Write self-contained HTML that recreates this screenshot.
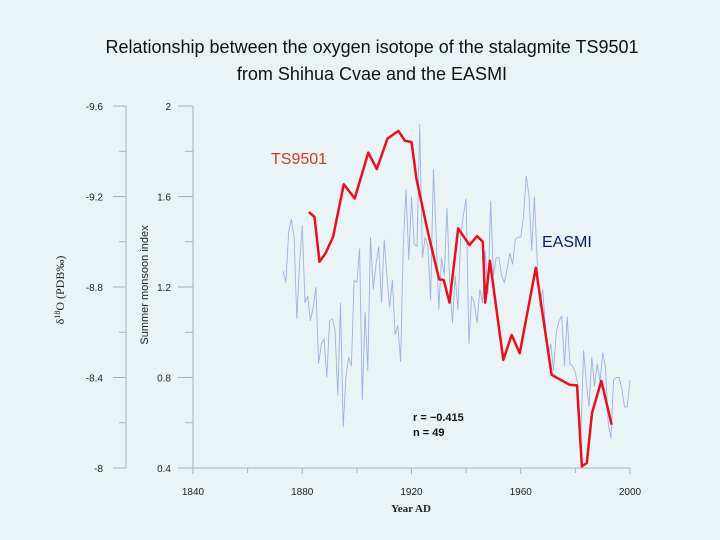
<!DOCTYPE html>
<html><head><meta charset="utf-8"><style>
body{margin:0;background:#eaf4f6;}
svg{display:block;font-family:"Liberation Sans",sans-serif;}
</style></head><body>
<svg id="chart" width="720" height="540" viewBox="0 0 720 540">
<rect width="720" height="540" fill="#eaf4f6"/>
<text x="372" y="53" text-anchor="middle" font-size="18" fill="#111">Relationship between the oxygen isotope of the stalagmite TS9501</text>
<text x="372" y="80" text-anchor="middle" font-size="18" fill="#111">from Shihua Cvae  and the EASMI</text>
<g id="axes"></g>
<g id="series"></g>
<text x="271" y="164" font-size="16" fill="#d9361f">TS9501</text>
<text x="542" y="247" font-size="16" fill="#0a1a70">EASMI</text>
<text x="413" y="421" font-size="11" font-weight="bold" fill="#111">r = −0.415</text>
<text x="413" y="436" font-size="11" font-weight="bold" fill="#111">n = 49</text>
<text x="411" y="512" text-anchor="middle" font-size="11" font-weight="bold" font-family="Liberation Serif,serif" fill="#222">Year AD</text>
<text transform="translate(64,290) rotate(-90)" text-anchor="middle" font-size="12" font-family="Liberation Serif,serif" fill="#222">δ<tspan font-size="8" dy="-4">18</tspan><tspan dy="4">O (PDB‰)</tspan></text>
<text transform="translate(148,285) rotate(-90)" text-anchor="middle" font-size="11" fill="#222">Summer monsoon index</text>
</svg>
<script>
const xTicks=[1840,1880,1920,1960,2000];
const leftTicks=[-9.6,-9.2,-8.8,-8.4,-8];
const leftTickLabels=["-9.6","-9.2","-8.8","-8.4","-8"];
const rightTicks=[2,1.6,1.2,0.8,0.4];
const rightTickLabels=["2","1.6","1.2","0.8","0.4"];
const tsYears=[1882.4,1884.5,1886.3,1888.5,1891.3,1895.2,1899.2,1904.2,1907.3,1911.2,1915.2,1917.6,1920.0,1921.8,1926.1,1930.1,1931.8,1933.9,1937.1,1941.2,1944.0,1946.1,1947.0,1948.7,1953.6,1956.7,1959.6,1965.5,1971.3,1977.8,1980.6,1982.4,1984.2,1986.1,1989.5,1993.3];
const tsValues=[-9.132,-9.110,-8.912,-8.949,-9.022,-9.254,-9.191,-9.394,-9.321,-9.456,-9.490,-9.446,-9.441,-9.279,-9.037,-8.834,-8.831,-8.731,-9.059,-8.985,-9.025,-9.000,-8.731,-8.916,-8.478,-8.588,-8.507,-8.885,-8.412,-8.368,-8.365,-8.007,-8.022,-8.243,-8.385,-8.191];
const easmiStart=1873;
const easmiValues=[1.27,1.22,1.44,1.50,1.42,1.06,1.30,1.47,1.13,1.16,1.05,1.11,1.20,0.86,0.95,0.97,0.80,1.05,1.06,1.01,0.72,1.13,0.58,0.80,0.89,0.85,1.23,1.22,1.37,0.70,1.09,0.83,1.42,1.19,1.30,1.38,1.13,1.41,1.25,1.11,1.23,0.99,1.03,0.87,1.39,1.63,1.32,1.60,1.39,1.38,1.92,1.33,1.42,1.38,1.14,1.72,1.44,1.10,1.33,1.25,1.55,1.22,1.04,1.25,1.10,1.42,1.52,1.59,0.95,1.16,1.13,1.04,1.19,1.13,1.36,1.17,1.58,1.25,1.33,1.33,1.25,1.22,1.28,1.35,1.30,1.41,1.42,1.42,1.51,1.69,1.61,1.36,1.60,1.32,1.11,1.19,1.04,0.89,0.95,0.83,1.00,1.05,1.07,0.85,1.07,0.86,0.85,0.82,0.76,0.54,0.92,0.78,0.67,0.89,0.76,0.86,0.78,0.91,0.85,0.60,0.53,0.79,0.80,0.80,0.75,0.67,0.67,0.79];
const X0=193,X1=630,Y0=106,Y1=468;
function xs(y){return X0+(y-1840)/160*(X1-X0);}
function yR(v){return Y0+(2-v)/1.6*(Y1-Y0);}
function yL(v){return Y0+(v+9.6)/1.6*(Y1-Y0);}
const NS="http://www.w3.org/2000/svg";
function mk(tag,attrs,parent){const e=document.createElementNS(NS,tag);for(const k in attrs)e.setAttribute(k,attrs[k]);parent.appendChild(e);return e;}
const ax=document.getElementById('axes');
const gray="#a9b0b4";
let e=mk('line',{x1:126,y1:Y0,x2:126,y2:Y1,stroke:gray,'stroke-width':1},ax);


e=mk('line',{x1:X0,y1:Y0,x2:X0,y2:Y1,stroke:gray,'stroke-width':1},ax);


e=mk('line',{x1:X0,y1:Y1,x2:X1,y2:Y1,stroke:gray,'stroke-width':1},ax);


leftTicks.forEach((v,i)=>{const y=yL(v);
 e=mk('line',{x1:113,y1:y,x2:126,y2:y,stroke:gray},ax);
 
 
 e=mk('text',{x:103,y:y+4,'text-anchor':'end','font-size':10,fill:'#222'},ax);e.textContent=leftTickLabels[i];
 
 
 if(i<leftTicks.length-1){const ym=yL(v+0.2);e=mk('line',{x1:119,y1:ym,x2:126,y2:ym,stroke:gray},ax);
 
 }
});
rightTicks.forEach((v,i)=>{const y=yR(v);
 e=mk('line',{x1:178,y1:y,x2:X0,y2:y,stroke:gray},ax);
 
 
 e=mk('text',{x:171,y:y+4,'text-anchor':'end','font-size':10,fill:'#222'},ax);e.textContent=rightTickLabels[i];
 
 
 if(i<rightTicks.length-1){const ym=yR(v-0.2);e=mk('line',{x1:185,y1:ym,x2:X0,y2:ym,stroke:gray},ax);
 
 }
});
xTicks.forEach((t,i)=>{const x=xs(t);
 e=mk('line',{x1:x,y1:Y1,x2:x,y2:Y1+6,stroke:gray},ax);
 
 
 e=mk('text',{x:x,y:Y1+27,'text-anchor':'middle','font-size':10,fill:'#222'},ax);e.textContent=String(t);
 
 
 if(i<xTicks.length-1){const xm=xs(t+20);e=mk('line',{x1:xm,y1:Y1,x2:xm,y2:Y1+5,stroke:gray},ax);
 
 }
});
const se=document.getElementById('series');
const bp=easmiValues.map((v,i)=>xs(easmiStart+i).toFixed(1)+','+yR(v).toFixed(1)).join(' ');
e=mk('polyline',{points:bp,fill:'none',stroke:'#9fb0e6','stroke-width':0.9},se);


const rp=tsValues.map((v,i)=>xs(tsYears[i]).toFixed(1)+','+yL(v).toFixed(1)).join(' ');
e=mk('polyline',{points:rp,fill:'none',stroke:'#e8101a','stroke-width':2.5,'stroke-linejoin':'round'},se);


</script>
</body></html>
